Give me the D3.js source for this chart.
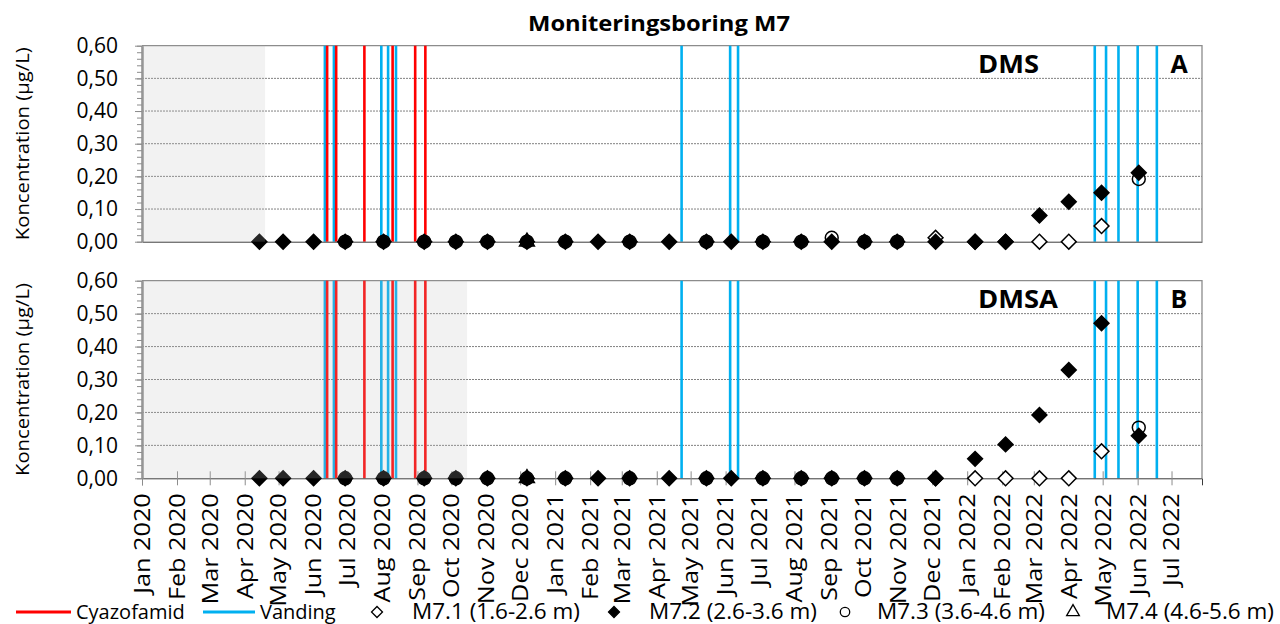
<!DOCTYPE html>
<head>
<meta charset="utf-8">
<title>Moniteringsboring M7</title>
<script src="https://d3js.org/d3.v7.min.js"></script>
<style>
body {
  margin: 0;
  background: #fff;
  font-family: "Open Sans";
}
svg { display: block; }

.grid line {
  stroke: #808080;
  stroke-width: 1px;
  stroke-dasharray: 2,1;
}
.yaxis path { stroke: #8c8c8c; stroke-width: 2px; }
.yaxis line { stroke: #8c8c8c; }
.yaxis text { font-family: "Open Sans"; font-size: 21px; fill: #000; }
.xaxis path { stroke: #3a3a3a; }
.xaxis line { stroke: #8c8c8c; }
.xaxis text { font-family: "Open Sans"; font-size: 21px; fill: #000; }
.legend text { font-size: 20px; }
</style>
</head>
<body>
<script>

// prøvetagningsdatoer (alle serier deler samme datoer)
const sampleDates = ["2020-04-14","2020-05-05","2020-06-01","2020-06-29","2020-08-02","2020-09-07",
  "2020-10-05","2020-11-02","2020-12-07","2021-01-10","2021-02-08","2021-03-08","2021-04-12",
  "2021-05-15","2021-06-06","2021-07-04","2021-08-07","2021-09-03","2021-10-02","2021-10-31",
  "2021-12-04","2022-01-08","2022-02-04","2022-03-06","2022-04-01","2022-04-30","2022-06-02"];

const seriesNames = ["M7.1 (1.6-2.6 m)", "M7.2 (2.6-3.6 m)", "M7.3 (3.6-4.6 m)", "M7.4 (4.6-5.6 m)"];

// DMS (panel A)
const dmsM71 = [null,null,null,null,null,null,null,null,null,null,null,null,null,null,null,null,null,null,null,null,0.012,0,0,0,0,0.048,null];
const dmsM72 = [0,0,0,0,0,0,0,0,0,0,0,0,0,0,0,0,0,0,0,0,0,0,0,0.08,0.122,0.15,0.211];
const dmsM73 = [null,null,null,0,0,0,0,0,0,0,null,0,null,0,null,0,0,0.012,0,0,null,null,null,null,null,null,0.192];
const dmsM74 = [null,null,null,null,null,null,null,null,0,null,null,null,null,null,null,null,null,null,null,null,null,null,null,null,null,null,null];

// DMSA (panel B)
const dmsaM71 = [null,null,null,null,null,null,null,null,null,null,null,null,null,null,null,null,null,null,null,null,0,0,0,0,0,0.082,null];
const dmsaM72 = [0,0,0,0,0,0,0,0,0,0,0,0,0,0,0,0,0,0,0,0,0,0.059,0.103,0.192,0.329,0.471,0.129];
const dmsaM73 = [null,null,null,0,0,0,0,0,0,0,null,0,null,0,null,0,0,0,0,0,null,null,null,null,null,null,0.154];
const dmsaM74 = [null,null,null,null,null,null,null,null,0,null,null,null,null,null,null,null,null,null,null,null,null,null,null,null,null,null,null];

// sprøjtning og vanding
const cyazofamidDates = ["2020-06-13","2020-06-21","2020-07-16","2020-08-10","2020-08-30","2020-09-08"];
const vandingDates = ["2020-06-11","2020-06-19","2020-07-31","2020-08-06","2020-08-13","2021-04-23",
  "2021-06-05","2021-06-12","2022-04-24","2022-05-04","2022-05-15","2022-06-01","2022-06-18"];

// grå periode (slutdato) for panel A og B
const shadeEnd = ["2020-04-19", "2020-10-15"];

const yTicks = [0, 0.1, 0.2, 0.3, 0.4, 0.5, 0.6];

const width = 1280, height = 624;
const red = "#ff0000", blue = "#00b0f0";

const parse = d3.timeParse("%Y-%m-%d");
const fmtNum = d3.formatLocale({decimal: ",", thousands: ".", grouping: [3], currency: ["", ""]}).format(".2f");
const fmtMonth = d3.timeFormat("%b %Y");

const x = d3.scaleTime()
  .domain([parse("2020-01-01"), parse("2022-07-28")])
  .range([142, 1202]);

const panels = [
  {name: "DMS", letter: "A", top: 45.7, zero: 241.7, shade: shadeEnd[0], xlabels: false, nameLen: 61,
    series: [dmsM71, dmsM72, dmsM73, dmsM74]},
  {name: "DMSA", letter: "B", top: 280.7, zero: 478.3, shade: shadeEnd[1], xlabels: true, nameLen: 80,
    series: [dmsaM71, dmsaM72, dmsaM73, dmsaM74]}
];

const svg = d3.select("body").append("svg")
  .attr("width", width)
  .attr("height", height);

svg.append("text")
  .attr("x", 659)
  .attr("y", 30.5)
  .attr("text-anchor", "middle")
  .attr("textLength", 262)
  .attr("lengthAdjust", "spacingAndGlyphs")
  .style("font-size", "22px")
  .style("font-weight", "bold")
  .text("Moniteringsboring M7");

// marker shapes
const diamond = d3.symbol().type(d3.symbolSquare).size(110);
const circle = d3.symbol().type(d3.symbolCircle).size(130);
const triangle = d3.symbol().type(d3.symbolTriangle).size(95);
const markerStyle = [
  {sym: diamond, rot: 45, fill: "#fff"},
  {sym: diamond, rot: 45, fill: "#000"},
  {sym: circle, rot: 0, fill: "none"},
  {sym: triangle, rot: 0, fill: "none"}
];

panels.forEach(p => {
  const y = d3.scaleLinear().domain([0, 0.6]).range([p.zero, p.top]);
  const g = svg.append("g");

  // gridlines
  g.append("g").attr("class", "grid")
    .selectAll("line")
    .data(yTicks.filter(d => d > 0 && d < 0.6))
    .join("line")
    .attr("x1", x.range()[0]).attr("x2", x.range()[1])
    .attr("y1", d => y(d)).attr("y2", d => y(d));

  // top + right border
  g.append("path")
    .attr("d", `M${x.range()[0]},${y(0.6)}H${x.range()[1]}V${y(0)}`)
    .attr("fill", "none")
    .attr("stroke", "#8c8c8c")
    .attr("stroke-width", 1.3);

  // vertical event lines
  g.append("g").selectAll("line")
    .data(vandingDates.map(parse))
    .join("line")
    .attr("x1", d => x(d)).attr("x2", d => x(d))
    .attr("y1", y(0)).attr("y2", y(0.6))
    .attr("stroke", blue).attr("stroke-width", 2.6);

  g.append("g").selectAll("line")
    .data(cyazofamidDates.map(parse))
    .join("line")
    .attr("x1", d => x(d)).attr("x2", d => x(d))
    .attr("y1", y(0)).attr("y2", y(0.6))
    .attr("stroke", red).attr("stroke-width", 2.6);

  // x axis (zero line)
  const xAxis = d3.axisBottom(x)
    .ticks(d3.timeMonth.every(1))
    .tickFormat(fmtMonth)
    .tickSizeOuter(0)
    .tickSize(p.xlabels ? 7 : 0);
  const xg = g.append("g")
    .attr("class", "xaxis")
    .attr("transform", `translate(0,${y(0)})`)
    .call(xAxis);
  if (p.xlabels) {
    xg.selectAll(".tick line").attr("y1", -7);
    xg.selectAll(".tick text")
      .attr("y", null)
      .attr("dy", "0.35em")
      .attr("transform", "translate(0,15) rotate(-90) scale(1.2,1)")
      .style("text-anchor", "end");
  } else {
    xg.selectAll(".tick").remove();
  }

  // y axis with minor ticks
  g.append("g")
    .attr("class", "yaxis")
    .attr("transform", `translate(${x.range()[0]},0)`)
    .call(d3.axisLeft(y).tickValues(d3.range(0, 0.601, 0.02)).tickSize(5).tickSizeOuter(0).tickFormat(""));
  g.append("g")
    .attr("class", "yaxis")
    .attr("transform", `translate(${x.range()[0]},0)`)
    .call(d3.axisLeft(y).tickValues(yTicks).tickSize(7).tickSizeOuter(0).tickPadding(17).tickFormat(fmtNum));

  // data markers
  p.series.forEach((vals, si) => {
    const st = markerStyle[si];
    const pts = sampleDates.map((d, i) => ({date: parse(d), v: vals[i]})).filter(d => d.v !== null);
    g.append("g").selectAll("path")
      .data(pts)
      .join("path")
      .attr("d", st.sym)
      .attr("transform", d => `translate(${x(d.date)},${y(d.v)}) rotate(${st.rot})`)
      .attr("fill", st.fill)
      .attr("stroke", "#000")
      .attr("stroke-width", 1.5);
  });

  // grey period, laid on top
  g.append("rect")
    .attr("x", x.range()[0])
    .attr("y", y(0.6))
    .attr("width", x(parse(p.shade)) - x.range()[0])
    .attr("height", y(0) - y(0.6))
    .attr("fill", "#bfbfbf")
    .attr("opacity", 0.2);

  // panel labels
  g.append("text")
    .attr("x", 978).attr("y", p.top + 27)
    .attr("textLength", p.nameLen)
    .attr("lengthAdjust", "spacingAndGlyphs")
    .style("font-size", "25px").style("font-weight", "bold")
    .text(p.name);
  g.append("text")
    .attr("x", 1179).attr("y", p.top + 27)
    .attr("text-anchor", "middle")
    .style("font-size", "25px").style("font-weight", "bold")
    .text(p.letter);

  svg.append("text")
    .attr("transform", `translate(29,${(p.top + p.zero) / 2}) rotate(-90)`)
    .attr("text-anchor", "middle")
    .attr("textLength", 193)
    .attr("lengthAdjust", "spacingAndGlyphs")
    .style("font-size", "19px")
    .text("Koncentration (µg/L)");
});

// legend
const legend = svg.append("g").attr("class", "legend").attr("transform", "translate(0,612)");
legend.append("line").attr("x1", 16).attr("x2", 71).attr("stroke", red).attr("stroke-width", 3);
legend.append("text").attr("x", 76).attr("y", 7).text("Cyazofamid");
legend.append("line").attr("x1", 203).attr("x2", 255).attr("stroke", blue).attr("stroke-width", 3);
legend.append("text").attr("x", 260).attr("y", 7).text("Vanding");

const legendPos = [[377, 412], [614, 649], [845, 877], [1073, 1106]];
seriesNames.forEach((name, i) => {
  const st = markerStyle[i];
  legend.append("path")
    .attr("d", st.sym.size(st.sym === diamond ? 60 : 70)())
    .attr("transform", `translate(${legendPos[i][0]},0) rotate(${st.rot})`)
    .attr("fill", st.fill === "none" ? "#fff" : st.fill)
    .attr("stroke", "#000")
    .attr("stroke-width", 1.3);
  legend.append("text")
    .attr("x", legendPos[i][1]).attr("y", 7)
    .attr("textLength", 168)
    .attr("lengthAdjust", "spacingAndGlyphs")
    .style("font-size", "21px")
    .text(name);
});

</script>
</body>
